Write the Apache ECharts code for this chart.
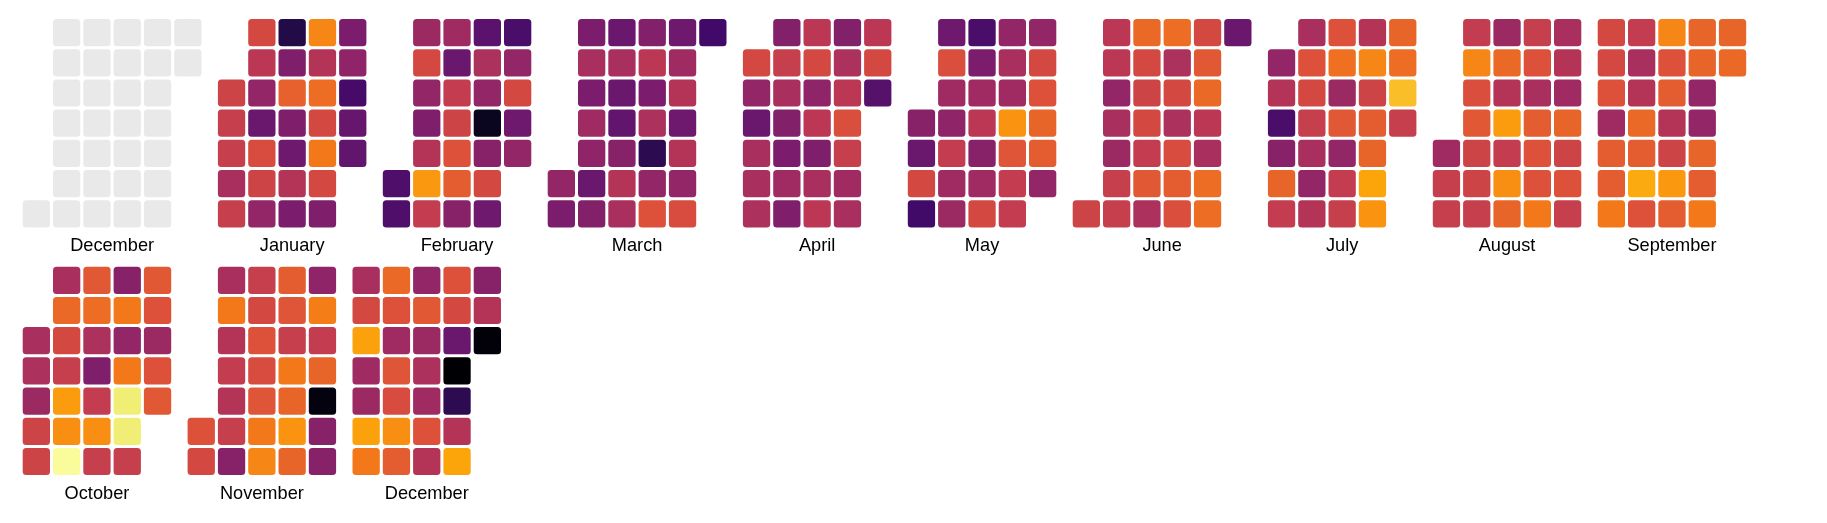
<!DOCTYPE html>
<html>
<head>
<meta charset="utf-8">
<script src="https://cdn.jsdelivr.net/npm/echarts@6/dist/echarts.min.js"></script>
<style>
html,body{margin:0;padding:0;background:#fff;}
#chart{width:1827px;height:523px;}
</style>
</head>
<body>
<div id="chart"></div>
<script>
// ---------------- data ----------------
const year = 2019;
const monthLabels = ['December','January','February','March','April','May','June',
  'July','August','September','October','November','December'];
// previous December: no data (drawn as empty grey cells)
const previousDecember = null;
// daily values (0-100), day 1 .. last day of month
const january   = [55,53,53,45,53, 57,50,40,30,58,55,40, 13,35,64,35,31,48,34, 73,48,67,57,70,57,35, 34,39,21,29,28];
const february  = [23,23, 42,57,40,35,48,77,52, 43,30,52,55,60,63,37, 26,46,40,5,37,57,31, 22,40,57,31,40];
const march     = [40,34, 34,45,34,43,39,30,36, 30,45,30,28,37,48,45, 36,50,34,46,15,40,60, 31,43,48,31,48,40,58, 20];
const april     = [57,40,30,45,45,46, 36,53,45,36,34,43,35, 50,57,39,50,35,45,50, 36,46,50,59,53,43,45, 50,57,25];
const may       = [37,30,57,20, 31,59,43,39,52,43,42, 22,34,43,50,37,43,57, 40,45,43,76,61,52,52, 40,57,60,65,63,40];
const june      = [55, 50,50,40,45,42,53,53, 66,57,55,57,52,62,46, 67,46,57,46,58,63,59, 57,62,66,50,45,67,67, 30];
const july      = [40,48,22,37,65,52, 45,60,57,53,45,40,48, 60,68,42,62,40,52,53, 48,73,55,63,65,80,76, 65,67,85,53];
const august    = [43,53,53, 52,73,59,62,55,55,53, 42,66,48,78,52,75,65, 53,60,45,63,60,60,70, 45,48,43,65,55,60,53];
const september = [57,57,60,43,63,63,70, 52,45,48,66,63,81,60, 73,60,63,48,55,77,63, 65,65,40,40,65,63,70, 65,66];
const october   = [45,46,42,55,55, 45,66,57,53,78,75,99, 62,67,46,35,52,75,53, 37,70,40,70,95,95,53, 62,60,42,60,62];
const november  = [60,57, 45,70,48,52,48,53,37, 53,57,60,58,61,70,73, 63,61,53,70,65,76,65, 39,71,52,65,2,37,37];
const december  = [45,57,79,43,42,79,70, 66,60,43,61,58,75,63, 40,62,42,46,43,60,48, 60,57,30,0,15,48,80, 37,48,1];

const monthValues = [previousDecember, january, february, march, april, may, june,
  july, august, september, october, november, december];

// inferno palette (stops at 0, .1, ... .9, .95, 1)
const inferno = ['#000004','#160b39','#420a68','#6a176e','#932667','#bc3754',
  '#dd513a','#f37819','#fca50a','#f6d746','#f1ee75','#fcffa4'];
const infernoStops = [0,10,20,30,40,50,60,70,80,90,95,100];

// ---------------- layout ----------------
const W = 1827;
const cellW = 30.3, cellH = 30.2, gapX = 13.4, rowStep = 247.7;
const startX = 21.2, startY = 17.5;
const pad = n => (n < 10 ? '0' : '') + n;

const calendars = [], series = [], graphics = [];
let x = startX, y = startY;
monthValues.forEach((vals, i) => {
  const yy = i === 0 ? year - 1 : year;
  const mm = i === 0 ? 11 : i - 1;
  const firstDow = new Date(yy, mm, 1).getDay();
  const nDays = new Date(yy, mm + 1, 0).getDate();
  const nCols = Math.ceil((firstDow + nDays) / 7);
  const w = nCols * cellW;
  if (x + w > W - 20 && x > startX) { x = startX; y += rowStep; }
  calendars.push({
    left: x, top: y, cellSize: [cellW, cellH], orient: 'horizontal',
    range: yy + '-' + pad(mm + 1), firstDay: 0,
    itemStyle: { color: 'transparent', borderWidth: 0 },
    splitLine: { show: false },
    dayLabel: { show: false }, monthLabel: { show: false }, yearLabel: { show: false }
  });
  const data = [];
  for (let d = 1; d <= nDays; d++) {
    const ds = yy + '-' + pad(mm + 1) + '-' + pad(d);
    data.push([ds, vals ? vals[d - 1] : 0]);
  }
  series.push({
    type: 'custom', coordinateSystem: 'calendar', calendarIndex: i,
    silent: true,
    renderItem: function (params, api) {
      const p = api.coord([api.value(0)]);
      const cw = params.coordSys.cellWidth, ch = params.coordSys.cellHeight;
      const rw = cw - 3, rh = ch - 3;
      return {
        type: 'rect',
        shape: { x: p[0] - rw / 2, y: p[1] - rh / 2, width: rw, height: rh, r: 3.5 },
        style: { fill: vals ? api.visual('color') : '#e9e9e9' }
      };
    },
    data: data
  });
  graphics.push({
    type: 'text', x: x + w / 2, y: y + 7 * cellH + 17,
    style: {
      text: monthLabels[i], fill: '#000', font: '18.2px "Liberation Sans", Arial, sans-serif',
      textAlign: 'center', textVerticalAlign: 'middle'
    }
  });
  x += w + gapX;
});

const pieces = [];
const chart = echarts.init(document.getElementById('chart'), null, { renderer: 'canvas' });
chart.setOption({
  backgroundColor: '#fff',
  animation: false,
  calendar: calendars,
  visualMap: {
    show: false, type: 'continuous', min: 0, max: 100, dimension: 1,
    seriesIndex: series.map((s, i) => i).filter(i => i > 0),
    inRange: { color: inferno.filter((c, k) => k !== 10) }
  },
  graphic: graphics,
  series: series
});
// refine the top of the palette (0.9 - 1.0) with an extra stop
chart.setOption({
  visualMap: {
    inRange: {
      color: (function () {
        // resample palette at equal steps of 5 so the 0.95 stop is honoured
        const out = [];
        for (let v = 0; v <= 100; v += 5) {
          let k = 0;
          while (k < infernoStops.length - 2 && v > infernoStops[k + 1]) k++;
          const a = infernoStops[k], b = infernoStops[k + 1];
          const t = (v - a) / (b - a);
          const ca = echarts.color.parse(inferno[k]), cb = echarts.color.parse(inferno[k + 1]);
          out.push('rgb(' + [0, 1, 2].map(j => Math.round(ca[j] + (cb[j] - ca[j]) * t)).join(',') + ')');
        }
        return out;
      })()
    }
  }
});
</script>
</body>
</html>
